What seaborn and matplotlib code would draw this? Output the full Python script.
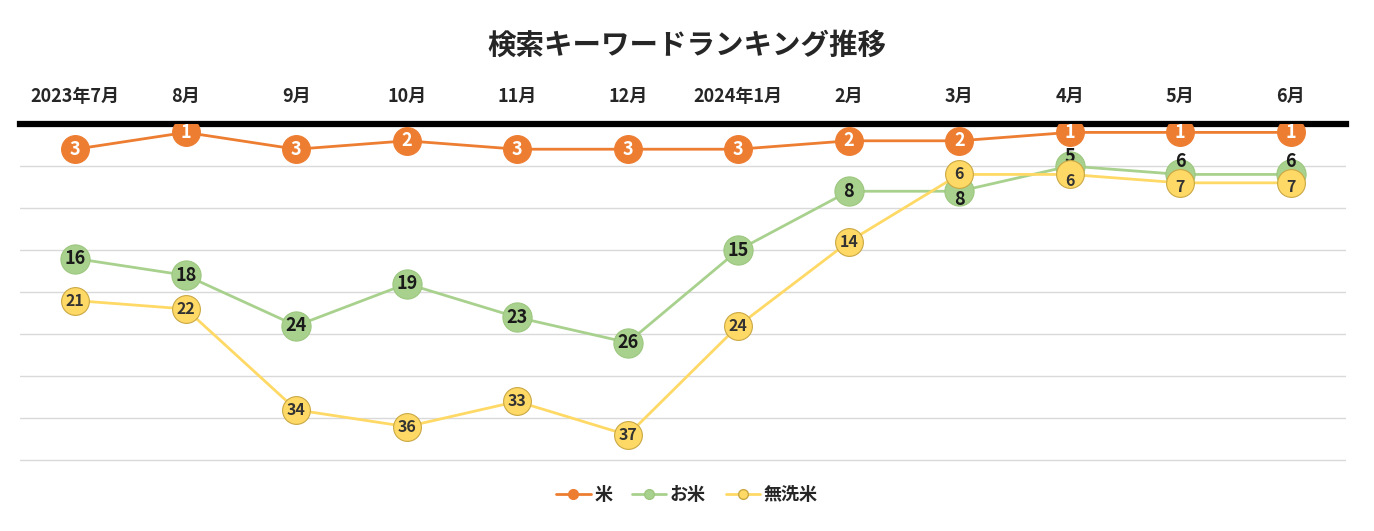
import numpy as np
import pandas as pd
import seaborn as sns
import matplotlib.pyplot as plt
from matplotlib.lines import Line2D

months = ['2023年7月', '8月', '9月', '10月', '11月', '12月',
          '2024年1月', '2月', '3月', '4月', '5月', '6月']
rank_kome = [3, 1, 3, 2, 3, 3, 3, 2, 2, 1, 1, 1]
rank_okome = [16, 18, 24, 19, 23, 26, 15, 8, 8, 5, 6, 6]
rank_musenmai = [21, 22, 34, 36, 33, 37, 24, 14, 6, 6, 7, 7]
series_names = ['米', 'お米', '無洗米']

df = pd.DataFrame({
    'month': months * 3,
    'rank': rank_kome + rank_okome + rank_musenmai,
    'series': [s for s in series_names for _ in months],
})

sns.set_theme(style='white')
plt.rcParams['font.family'] = ['Noto Sans CJK JP', 'DejaVu Sans']

colors = {'米': '#ED7D31', 'お米': '#A9D18E', '無洗米': '#FFD966'}
edges = {'米': '#ED7D31', 'お米': '#9CC77F', '無洗米': '#C9A843'}
txt_colors = {'米': 'white', 'お米': '#1a1a1a', '無洗米': '#333333'}
zorders = {'お米': 3, '無洗米': 4, '米': 5}
msizes = {'米': 20, 'お米': 21, '無洗米': 20}
fsizes = {'米': 13, 'お米': 13, '無洗米': 11.5}

fig = plt.figure(figsize=(13.74, 5.31), dpi=100)
ax = fig.add_axes([0.0146, 0.13, 0.965, 0.6365])

for name in ['お米', '無洗米', '米']:
    sub = df[df['series'] == name]
    sns.lineplot(data=sub, x='month', y='rank', ax=ax, color=colors[name],
                 marker='o', markersize=msizes[name], markeredgecolor=edges[name],
                 markeredgewidth=0.8, linewidth=2, zorder=zorders[name],
                 legend=False, sort=False)

# small label nudges where markers overlap (points, + = down)
nudge = {('お米', 8): 6, ('お米', 9): -7, ('お米', 10): -9, ('お米', 11): -9,
         ('無洗米', 9): 5, ('無洗米', 10): 3, ('無洗米', 11): 3}
for name in ['お米', '無洗米', '米']:
    sub = df[df['series'] == name].reset_index(drop=True)
    for i, r in enumerate(sub['rank']):
        dy = nudge.get((name, i), 0)
        ax.annotate(str(r), (i, r), xytext=(0, -dy), textcoords='offset points',
                    ha='center', va='center', fontsize=fsizes[name],
                    fontweight='bold', color=txt_colors[name],
                    zorder=zorders[name] + 0.5)

ax.set_xlim(-0.5, len(months) - 0.5)
ax.set_ylim(40.2, 0)
ax.set_yticks(np.arange(5, 45, 5))
ax.set_yticklabels([])
ax.yaxis.grid(True, color='#D9D9D9', linewidth=1)
ax.xaxis.grid(False)
ax.tick_params(axis='y', length=0)
ax.xaxis.tick_top()
ax.tick_params(axis='x', length=0, pad=13, labelsize=13)
for lbl in ax.get_xticklabels():
    lbl.set_fontweight('bold')
ax.set_xlabel('')
ax.set_ylabel('')
for side in ['left', 'right', 'bottom']:
    ax.spines[side].set_visible(False)
ax.spines['top'].set_color('black')
ax.spines['top'].set_linewidth(4.5)
ax.spines['top'].set_zorder(2)

fig.suptitle('検索キーワードランキング推移', y=0.94, fontsize=20.5, fontweight='bold')

handles = [Line2D([0], [0], color=colors[n], marker='o', markersize=7,
                  markeredgecolor=edges[n], linewidth=2) for n in series_names]
fig.legend(handles, series_names, loc='center', bbox_to_anchor=(0.5, 0.068),
           ncol=3, frameon=False, prop={'size': 13, 'weight': 'bold'},
           handlelength=1.9, columnspacing=1.1, handletextpad=0.2)

fig.savefig('out.png', dpi=100)
